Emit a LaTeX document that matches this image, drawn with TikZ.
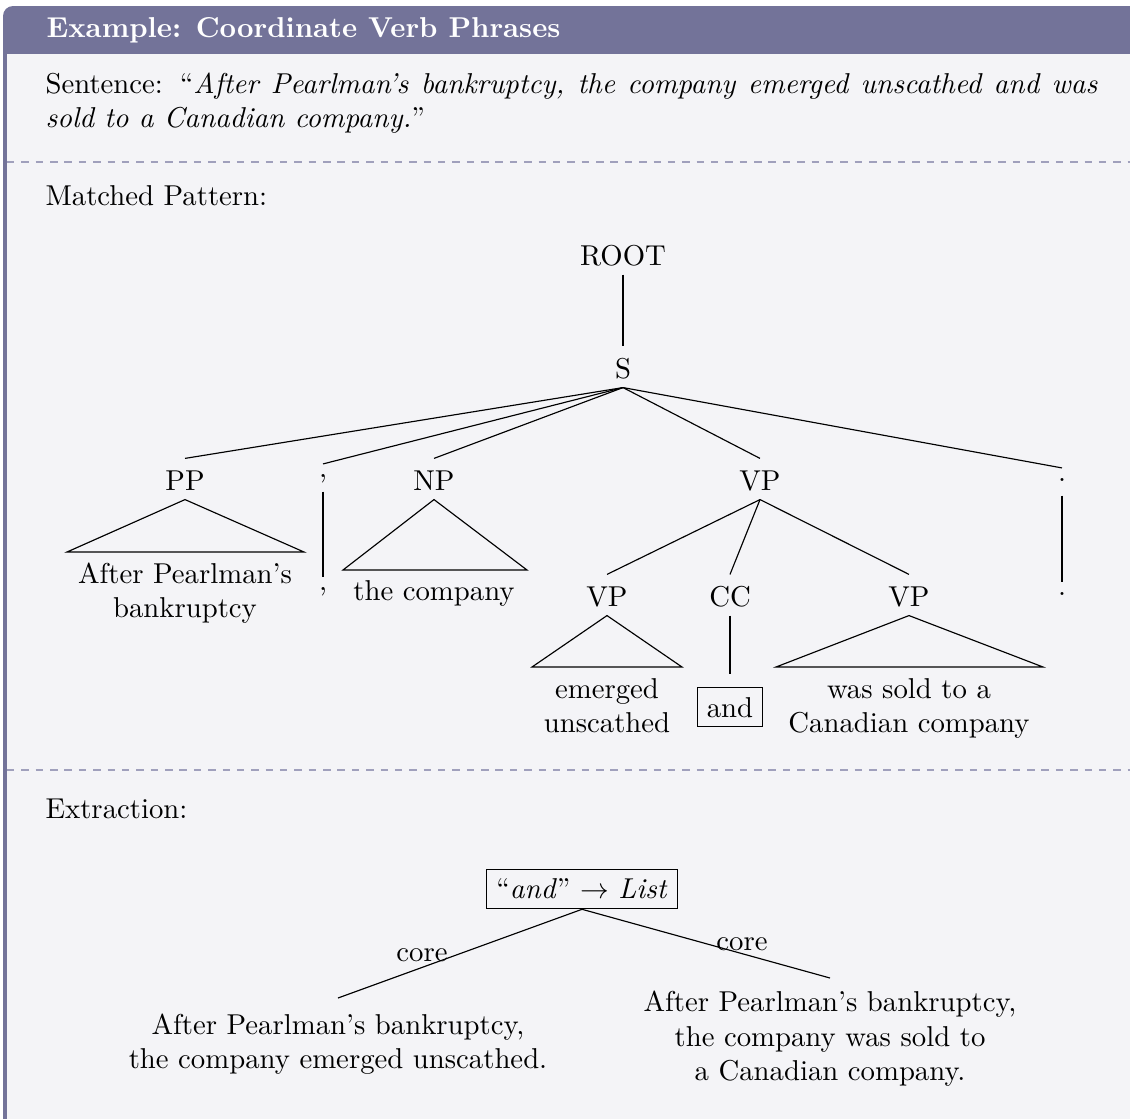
\documentclass[tikz,border=0pt]{standalone}
\usetikzlibrary{calc}
\definecolor{frameC}{RGB}{115,115,153}
\definecolor{backC}{RGB}{244,244,247}
\definecolor{dashC}{RGB}{160,160,188}
\begin{document}
\begin{tikzpicture}[x=0.348pt,y=-0.348pt,
  tlab/.style={anchor=base,inner sep=0pt,text height=10.8pt,text depth=3.13pt},
  plab/.style={anchor=base,inner sep=0pt,text height=4.35pt,text depth=4.9pt},
  tleaf/.style={anchor=base,inner sep=0pt,align=center,text width=110pt},
  exleaf/.style={anchor=north,inner xsep=0pt,align=center,text width=170pt},
  sepline/.style={dashC,line width=0.5pt,dash pattern=on 2.6pt off 2.4pt},
  txt/.style={anchor=base west,inner sep=0pt}]
\useasboundingbox (0,0) rectangle (1130,1118);
\clip (0,0) rectangle (1130,1118);
% frame
\fill[frameC,rounded corners=3.5pt] (3,6) rectangle (1170,1150);
\fill[backC] (7,54) rectangle (1166,1146);
\node[txt,text=white,font=\bfseries] (title) at (46,37) {Example: Coordinate Verb Phrases};
% sentence
\node[txt,text width=366pt,align=justify] (sent) at (45,93)
  {Sentence: “\textit{After Pearlman’s bankruptcy, the company emerged unscathed and was\linebreak sold to a Canadian company.}”};
\draw[sepline] (7,162) -- (1130,162);
\node[txt] (mp) at (45,205) {Matched Pattern:};
% tree
\node[tlab] (root) at (623,265) {ROOT};
\node[tlab] (s) at (623,378) {S};
\node[tlab] (pp) at (185,490) {PP};
\node[plab] (c1) at (323,477) {,};
\node[tlab] (np) at (434,490) {NP};
\node[tlab] (vp) at (760,490) {VP};
\node[plab] (p1) at (1062,481) {.};
\node[tleaf] (ppw) at (185,583) {After Pearlman’s\\bankruptcy};
\node[plab] (c2) at (323,590) {,};
\node[tleaf] (npw) at (434,600) {the company};
\node[plab] (p2) at (1062,595) {.};
\node[tlab] (vp1) at (607,606) {VP};
\node[tlab] (cc) at (730,606) {CC};
\node[tlab] (vp2) at (909,606) {VP};
\node[tleaf] (vp1w) at (607,698) {emerged\\unscathed};
\node[anchor=base,inner sep=4.5pt] (andw) at (730,717) {\fbox{and}};
\node[tleaf] (vp2w) at (909,698) {was sold to a\\Canadian company};
\coordinate (ppL) at (67,552);
\coordinate (ppR) at (304,552);
\coordinate (npL) at (343,570);
\coordinate (npR) at (527,570);
\coordinate (vp1L) at (532,667);
\coordinate (vp1R) at (682,667);
\coordinate (vp2L) at (776,667);
\coordinate (vp2R) at (1043,667);
\draw (root.south) -- (s.north);
\draw (s.south) -- (pp.north);
\draw (s.south) -- (c1.north);
\draw (s.south) -- (np.north);
\draw (s.south) -- (vp.north);
\draw (s.south) -- (p1.north);
\draw (pp.south) -- (ppL) -- (ppR) -- cycle;
\draw (c1.south) -- (c2.north);
\draw (np.south) -- (npL) -- (npR) -- cycle;
\draw (p1.south) -- (p2.north);
\draw (vp.south) -- (vp1.north);
\draw (vp.south) -- (cc.north);
\draw (vp.south) -- (vp2.north);
\draw (vp1.south) -- (vp1L) -- (vp1R) -- cycle;
\draw (cc.south) -- (andw.north);
\draw (vp2.south) -- (vp2L) -- (vp2R) -- cycle;
\draw[sepline] (7,770) -- (1130,770);
\node[txt] (ex) at (45,818) {Extraction:};
\node[draw] (lst) at (582,889) {“\textit{and}” $\rightarrow$ \textit{List}};
\node[exleaf,inner ysep=5.3pt] (exL) at (338,998) {After Pearlman’s bankruptcy,\\the company emerged unscathed.};
\node[exleaf,inner ysep=4.4pt] (exR) at (830,978) {After Pearlman’s bankruptcy,\\the company was sold to\\a Canadian company.};
\draw (lst.south) -- (exL.north);
\draw (lst.south) -- (exR.north);
\node[inner sep=0pt] (coreL) at (422,955) {core};
\node[inner sep=0pt] (coreR) at (742,944) {core};
\end{tikzpicture}
\end{document}
